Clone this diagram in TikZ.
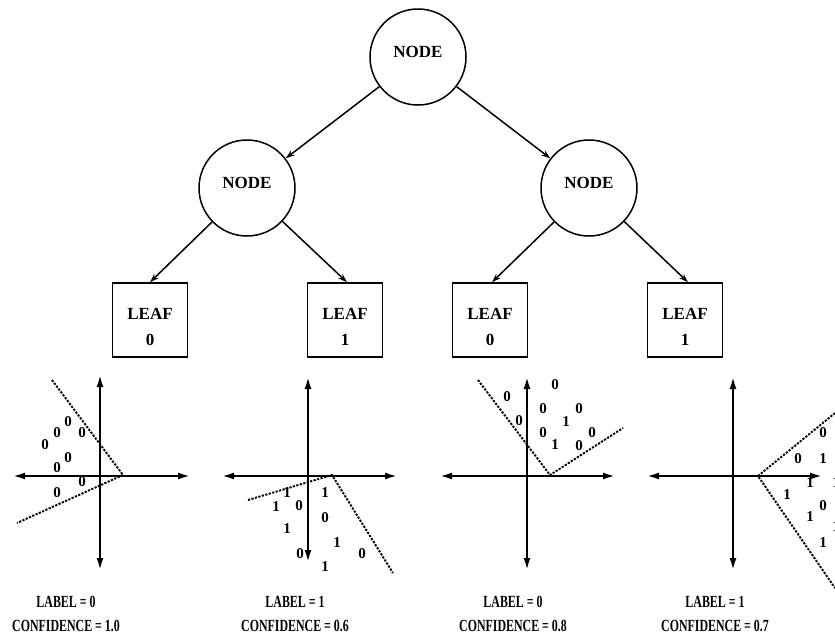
\documentclass[tikz,border=0pt]{standalone}
\usepackage{fontspec}
\setmainfont{Liberation Serif}
\usetikzlibrary{arrows.meta}
\begin{document}
\begin{tikzpicture}[x=1pt,y=-1pt,
 treenode/.style={circle,draw,line width=1.5pt,minimum size=96pt,inner sep=0pt},
 nodetext/.style={font=\fontsize{17}{20}\selectfont\bfseries,inner sep=0pt},
 leafbox/.style={rectangle,draw,line width=1.5pt,minimum width=75pt,minimum height=74pt,inner sep=0pt},
 leaftext/.style={align=center,inner sep=0pt,font=\fontsize{17}{26}\selectfont\bfseries},
 edge/.style={line width=1.5pt,-{Stealth[length=9pt,width=6pt]}},
 axis/.style={line width=2pt,{Latex[length=12pt,width=7pt]}-{Latex[length=12pt,width=7pt]}},
 bound/.style={line width=1.9pt,dash pattern=on 2.2pt off 1.4pt},
 digit/.style={font=\fontsize{15}{15}\selectfont\bfseries,inner sep=0pt},
 caption/.style={align=center,inner sep=0pt,font=\fontsize{17}{24}\selectfont\bfseries,xscale=0.7}
]
\useasboundingbox (0,0) rectangle (835,638);

% tree
\node[treenode] (n0) at (418,57) {};
\node[treenode] (n1) at (247,188) {};
\node[treenode] (n2) at (589,188) {};
\node[nodetext] (t0) at ([yshift=5pt]n0.center) {NODE};
\node[nodetext] (t1) at ([yshift=5pt]n1.center) {NODE};
\node[nodetext] (t2) at ([yshift=5pt]n2.center) {NODE};

\node[leafbox] (l1) at (150,320) {};
\node[leafbox] (l2) at (345,320) {};
\node[leafbox] (l3) at (490,320) {};
\node[leafbox] (l4) at (685,320) {};
\node[leaftext] (lt1) at ([yshift=-7pt]l1.center) {LEAF\\0};
\node[leaftext] (lt2) at ([yshift=-7pt]l2.center) {LEAF\\1};
\node[leaftext] (lt3) at ([yshift=-7pt]l3.center) {LEAF\\0};
\node[leaftext] (lt4) at ([yshift=-7pt]l4.center) {LEAF\\1};

\draw[edge] (n0) -- (n1);
\draw[edge] (n0) -- (n2);
\draw[edge] (n1) -- (l1.north);
\draw[edge] (n1) -- ([xshift=2pt]l2.north);
\draw[edge] (n2) -- ([xshift=2pt]l3.north);
\draw[edge] (n2) -- ([xshift=3pt]l4.north);

% panel 1
\coordinate (a1l) at (13,476); \coordinate (a1r) at (190,476);
\coordinate (a1t) at (100,375); \coordinate (a1b) at (100,570);
\draw[axis] (a1l) -- (a1r);
\draw[axis] (a1t) -- (a1b);
\coordinate (b1a) at (52,380); \coordinate (b1v) at (123,475); \coordinate (b1b) at (17,523);
\draw[bound] (b1a) -- (b1v) -- (b1b);
\foreach \p in {(68,422),(57,433),(82,433),(45,445),(68,458),(57,468),(82,482),(57,493)}
  \node[digit] at \p {0};

% panel 2
\coordinate (a2l) at (222,476); \coordinate (a2r) at (397,476);
\coordinate (a2t) at (308,377); \coordinate (a2b) at (308,562);
\draw[axis] (a2l) -- (a2r);
\draw[axis] (a2t) -- (a2b);
\coordinate (b2a) at (248,500); \coordinate (b2v) at (332,475); \coordinate (b2b) at (393,573);
\draw[bound] (b2a) -- (b2v) -- (b2b);
\foreach \p/\d in {(287,493)/1,(276,507)/1,(299,506)/0,(325,493)/1,(325,518)/0,(287,529)/1,(337,543)/1,(300,554)/0,(362,554)/0,(325,567)/1}
  \node[digit] at \p {\d};

% panel 3
\coordinate (a3l) at (440,476); \coordinate (a3r) at (615,476);
\coordinate (a3t) at (527,377); \coordinate (a3b) at (527,570);
\draw[axis] (a3l) -- (a3r);
\draw[axis] (a3t) -- (a3b);
\coordinate (b3a) at (478,380); \coordinate (b3v) at (550,475); \coordinate (b3b) at (623,428);
\draw[bound] (b3a) -- (b3v) -- (b3b);
\foreach \p/\d in {(555,385)/0,(507,397)/0,(543,409)/0,(579,409)/0,(519,421)/0,(566,422)/1,(543,433)/0,(592,433)/0,(555,445)/1,(579,446)/0}
  \node[digit] at \p {\d};

% panel 4
\coordinate (a4l) at (647,476); \coordinate (a4r) at (822,476);
\coordinate (a4t) at (733,377); \coordinate (a4b) at (733,570);
\draw[axis] (a4l) -- (a4r);
\draw[axis] (a4t) -- (a4b);
\coordinate (b4a) at (835,413); \coordinate (b4v) at (758,476); \coordinate (b4b) at (835,588);
\draw[bound] (b4a) -- (b4v) -- (b4b);
\foreach \p/\d in {(823,433)/0,(798,459)/0,(823,459)/1,(810,483)/1,(836,483)/1,(787,495)/1,(823,506)/0,(810,517)/1,(836,527)/1,(823,543)/1}
  \node[digit] at \p {\d};

% captions
\node[caption] (c1) at (66,614) {LABEL = 0\\CONFIDENCE = 1.0};
\node[caption] (c2) at (295,614) {LABEL = 1\\CONFIDENCE = 0.6};
\node[caption] (c3) at (513,614) {LABEL = 0\\CONFIDENCE = 0.8};
\node[caption] (c4) at (715,614) {LABEL = 1\\CONFIDENCE = 0.7};
\end{tikzpicture}
\end{document}
